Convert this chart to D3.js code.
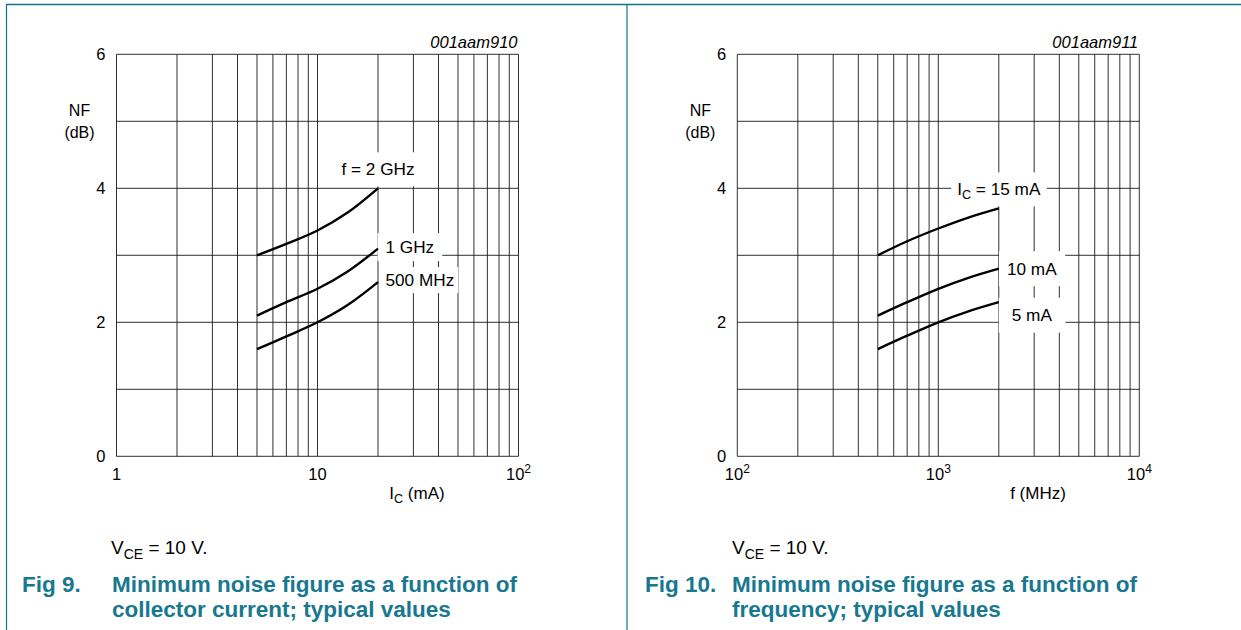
<!DOCTYPE html>
<html>
<head>
<meta charset="utf-8">
<script src="https://cdn.jsdelivr.net/npm/d3@7"></script>
<style>
  html, body { margin: 0; padding: 0; background: #fff; }
  svg { display: block; font-family: "Liberation Sans", Arial, sans-serif; }
</style>
</head>
<body>
<svg id="chart" width="1241" height="630"></svg>
<script>
// Fig 9: noise figure vs collector current (mA), one curve per frequency
const icValues = [5, 7, 10, 14, 20];
const nf2GHz   = [3.0, 3.17, 3.37, 3.63, 4.0];
const nf1GHz   = [2.1, 2.3, 2.5, 2.75, 3.1];
const nf500MHz = [1.6, 1.79, 2.0, 2.25, 2.6];
const fig9Labels = ["f = 2 GHz", "1 GHz", "500 MHz"];

// Fig 10: noise figure vs frequency (MHz), one curve per collector current
const freqValues = [500, 700, 1000, 1400, 2000];
const nf15mA = [3.0, 3.21, 3.4, 3.56, 3.7];
const nf10mA = [2.1, 2.3, 2.5, 2.66, 2.8];
const nf5mA  = [1.6, 1.8, 2.0, 2.16, 2.3];
const fig10Labels = ["10 mA", "5 mA"];

const yTicks = [0, 2, 4, 6];
const teal = "#0f7390";
const titleColor = "#17788f";

const svg = d3.select("#chart");

// outer frame of the two figure cells
svg.append("line").attr("x1", 6).attr("x2", 1241).attr("y1", 4.5).attr("y2", 4.5)
  .attr("stroke", teal).attr("stroke-width", 1.5);
svg.append("line").attr("x1", 6.5).attr("x2", 6.5).attr("y1", 4).attr("y2", 630)
  .attr("stroke", teal).attr("stroke-width", 1.2);
svg.append("line").attr("x1", 627).attr("x2", 627).attr("y1", 4).attr("y2", 630)
  .attr("stroke", teal).attr("stroke-width", 1.2);

function drawPanel(cfg) {
  const g = svg.append("g");
  const x = d3.scaleLog().domain(cfg.xDomain).range([cfg.left, cfg.left + 402]);
  const y = d3.scaleLinear().domain([0, 6]).range([456.3, 54.3]);

  // grid lines: every 1..9 within each decade
  const [d0, d1] = cfg.xDomain;
  const xs = [];
  for (let dec = d0; dec < d1; dec *= 10) for (let k = 1; k < 10; k++) xs.push(dec * k);
  xs.push(d1);
  const grid = g.append("g").attr("stroke", "#1a1a1a").attr("stroke-width", 0.9);
  grid.selectAll("line.v").data(xs).join("line")
    .attr("x1", d => x(d)).attr("x2", d => x(d)).attr("y1", y(0)).attr("y2", y(6));
  grid.selectAll("line.h").data(d3.range(0, 7)).join("line")
    .attr("x1", x(d0)).attr("x2", x(d1)).attr("y1", d => y(d)).attr("y2", d => y(d));

  // annotation backgrounds hide the grid behind each curve label
  const labelLayer = g.append("g");

  // curves
  const line = d3.line().x(d => x(d[0])).y(d => y(d[1])).curve(d3.curveCatmullRom.alpha(0.5));
  cfg.series.forEach(s => {
    g.append("path").datum(cfg.xValues.map((v, i) => [v, s.values[i]]))
      .attr("d", line).attr("fill", "none").attr("stroke", "#000").attr("stroke-width", 2.4);
  });

  cfg.series.forEach(s => {
    const xe = cfg.xValues[cfg.xValues.length - 1];
    const ye = s.values[s.values.length - 1];
    const px = x(xe) + s.dx, py = y(ye) + s.dy;
    const t = labelLayer.append("text").attr("x", px).attr("y", py + 6)
      .attr("text-anchor", s.anchor).attr("font-size", 17.2).attr("fill", "#000");
    if (s.sub) {
      t.append("tspan").text(s.pre);
      t.append("tspan").attr("font-size", 12.5).attr("dy", 4).text(s.sub);
      t.append("tspan").attr("dy", -4).text(s.post);
    } else {
      t.text(s.label);
    }
    const b = t.node().getBBox();
    labelLayer.insert("rect", "text")
      .attr("x", b.x - s.padX).attr("y", py - s.padY)
      .attr("width", b.width + 2 * s.padX).attr("height", 2 * s.padY)
      .attr("fill", "#fff");
  });

  // y tick labels
  g.selectAll("text.yt").data(yTicks).join("text")
    .attr("x", cfg.left - 11).attr("y", d => y(d) + 6)
    .attr("text-anchor", "end").attr("font-size", 16.5).text(d => d);

  // y-axis title
  g.append("text").attr("x", cfg.left - 37).attr("y", 116).attr("text-anchor", "middle")
    .attr("font-size", 16).text("NF");
  g.append("text").attr("x", cfg.left - 37).attr("y", 137.5).attr("text-anchor", "middle")
    .attr("font-size", 16).text("(dB)");

  // x tick labels (decades)
  cfg.xTicks.forEach(tk => {
    const t = g.append("text").attr("x", x(tk.v)).attr("y", 480)
      .attr("text-anchor", "middle").attr("font-size", 16.5);
    t.append("tspan").text(tk.base);
    if (tk.exp) t.append("tspan").attr("font-size", 12).attr("dy", -7).text(tk.exp);
  });

  // x-axis title
  const xt = g.append("text").attr("x", cfg.xTitleX).attr("y", 499)
    .attr("text-anchor", "middle").attr("font-size", 17);
  cfg.xTitle.forEach(p => {
    const ts = xt.append("tspan").text(p.t);
    if (p.sub) ts.attr("font-size", 12.5).attr("dy", 4);
    if (p.back) ts.attr("dy", -4);
  });

  // figure code
  g.append("text").attr("x", cfg.left + 401).attr("y", 48).attr("text-anchor", "end")
    .attr("font-size", 16.5).attr("font-style", "italic").text(cfg.code);

  // condition note
  const note = g.append("text").attr("x", cfg.noteX).attr("y", 554).attr("font-size", 19);
  note.append("tspan").text("V");
  note.append("tspan").attr("font-size", 14).attr("dy", 5).text("CE");
  note.append("tspan").attr("dy", -5).text(" = 10 V.");

  // caption
  const cap = g.append("g").attr("fill", titleColor).attr("font-weight", "bold").attr("font-size", 22.5);
  cap.append("text").attr("x", cfg.figX).attr("y", 592).text(cfg.fig);
  cap.append("text").attr("x", cfg.capX).attr("y", 592).text(cfg.cap[0]);
  cap.append("text").attr("x", cfg.capX).attr("y", 617).text(cfg.cap[1]);
}

drawPanel({
  left: 116.5,
  xDomain: [1, 100],
  xValues: icValues,
  series: [
    { values: nf2GHz,   label: fig9Labels[0], anchor: "middle", dx: 0,   dy: -19, padX: 6, padY: 17 },
    { values: nf1GHz,   label: fig9Labels[1], anchor: "start",  dx: 7.5, dy: -1.5, padX: 8, padY: 14 },
    { values: nf500MHz, label: fig9Labels[2], anchor: "start",  dx: 7.5, dy: -2, padX: 4, padY: 13 }
  ],
  xTicks: [{ v: 1, base: "1" }, { v: 10, base: "10" }, { v: 100, base: "10", exp: "2" }],
  xTitleX: 417,
  xTitle: [{ t: "I" }, { t: "C", sub: true }, { t: " (mA)", back: true }],
  code: "001aam910",
  noteX: 111,
  figX: 22,
  fig: "Fig 9.",
  capX: 112,
  cap: ["Minimum noise figure as a function of", "collector current; typical values"]
});

drawPanel({
  left: 737.3,
  xDomain: [100, 10000],
  xValues: freqValues,
  series: [
    { values: nf15mA, pre: "I", sub: "C", post: " = 15 mA", anchor: "middle", dx: 0, dy: -19, padX: 6, padY: 17 },
    { values: nf10mA, label: fig10Labels[0], anchor: "middle", dx: 33, dy: 0,  padX: 8, padY: 17.5 },
    { values: nf5mA,  label: fig10Labels[1], anchor: "middle", dx: 33, dy: 13, padX: 13, padY: 17.5 }
  ],
  xTicks: [{ v: 100, base: "10", exp: "2" }, { v: 1000, base: "10", exp: "3" }, { v: 10000, base: "10", exp: "4" }],
  xTitleX: 1038,
  xTitle: [{ t: "f (MHz)" }],
  code: "001aam911",
  noteX: 732,
  figX: 645,
  fig: "Fig 10.",
  capX: 732,
  cap: ["Minimum noise figure as a function of", "frequency; typical values"]
});
</script>
</body>
</html>
